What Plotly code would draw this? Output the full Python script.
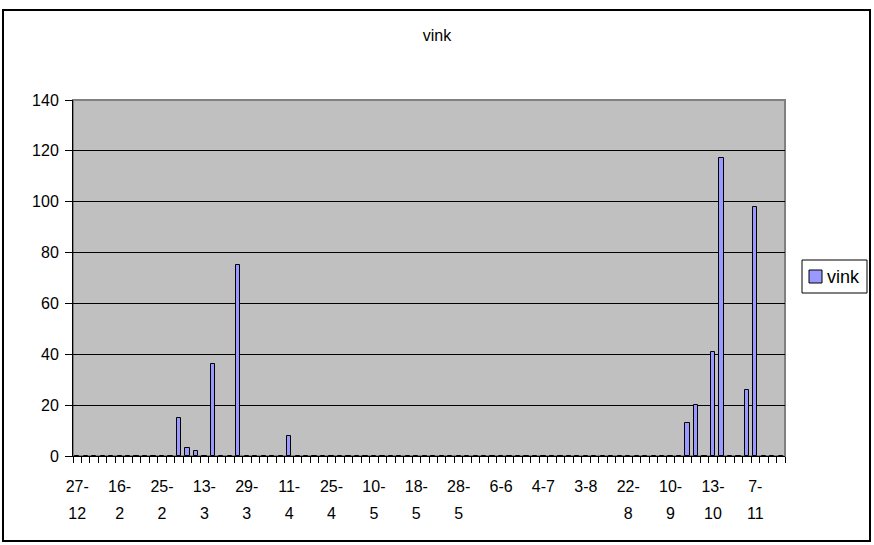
import plotly.graph_objects as go

# ---- data ----
series_name = "vink"
label_line1 = ["27-", "16-", "25-", "13-", "29-", "11-", "25-", "10-", "18-", "28-",
               "6-6", "4-7", "3-8", "22-", "10-", "13-", "7-"]
label_line2 = ["12", "2", "2", "3", "3", "4", "4", "5", "5", "5",
               "", "", "", "8", "9", "10", "11"]
label_every = 5
values = [0, 0, 0, 0, 0, 0, 0, 0, 0, 0, 0, 0, 15, 3, 2, 0, 36, 0, 0, 75,
          0, 0, 0, 0, 0, 8, 0, 0, 0, 0, 0, 0, 0, 0, 0, 0, 0, 0, 0, 0,
          0, 0, 0, 0, 0, 0, 0, 0, 0, 0, 0, 0, 0, 0, 0, 0, 0, 0, 0, 0,
          0, 0, 0, 0, 0, 0, 0, 0, 0, 0, 0, 0, 13, 20, 0, 41, 117, 0, 0, 26,
          98, 0, 0, 0]
y_ticks = [0, 20, 40, 60, 80, 100, 120, 140]

# ---- layout geometry (pixels) ----
W, H = 874, 545
L, R, T, B = 73, 89, 100, 89
pw, ph = W - L - R, H - T - B

def px_x(p):
    return (p - L) / pw

def px_y(p):
    return (H - B - p) / ph

x = list(range(len(values)))
tickvals = x[::label_every][:len(label_line1)]
xrange_ = [-0.5, len(values) - 0.5]

FONT = "Liberation Sans, Arial, sans-serif"
FS = 16
BAR_COLOR = "#9999FF"

fig = go.Figure()
fig.add_trace(go.Bar(
    x=x, y=values, name=series_name, width=0.5,
    marker=dict(color=BAR_COLOR, line=dict(color="black", width=1)),
    showlegend=False,
))
# helper (no visible marks) so the second label row axis is rendered
fig.add_trace(go.Scatter(x=tickvals[:1], y=[0], xaxis="x2", mode="none",
                         showlegend=False, hoverinfo="skip"))

# legend box drawn by hand (Excel style)
LG_X0, LG_X1, LG_Y0, LG_Y1 = 802, 867, 260, 293
SQ = 13
shapes = [
    dict(type="rect", xref="paper", yref="paper", x0=0, x1=1, y0=0, y1=1,
         line=dict(color="#808080", width=2), fillcolor="rgba(0,0,0,0)", layer="below"),
    dict(type="rect", xref="paper", yref="paper",
         x0=px_x(3), x1=px_x(870), y0=px_y(541), y1=px_y(10),
         line=dict(color="black", width=2), fillcolor="rgba(0,0,0,0)"),
    dict(type="rect", xref="paper", yref="paper",
         x0=px_x(LG_X0), x1=px_x(LG_X1), y0=px_y(LG_Y1), y1=px_y(LG_Y0),
         line=dict(color="black", width=1), fillcolor="white"),
    dict(type="rect", xref="paper", yref="paper",
         x0=px_x(LG_X0 + 7), x1=px_x(LG_X0 + 7 + SQ),
         y0=px_y((LG_Y0 + LG_Y1) / 2 + SQ / 2), y1=px_y((LG_Y0 + LG_Y1) / 2 - SQ / 2),
         line=dict(color="black", width=1), fillcolor=BAR_COLOR),
]
annotations = [
    dict(text=series_name, xref="paper", yref="paper",
         x=px_x(LG_X0 + 7 + SQ + 3), y=px_y((LG_Y0 + LG_Y1) / 2),
         xanchor="left", yanchor="middle", showarrow=False,
         font=dict(family=FONT, size=18, color="black")),
]

fig.update_layout(
    width=W, height=H,
    margin=dict(l=L, r=R, t=T, b=B, autoexpand=False),
    paper_bgcolor="white",
    plot_bgcolor="#C0C0C0",
    font=dict(family=FONT, size=FS, color="black"),
    title=dict(text="vink", x=0.5, xref="container", xanchor="center",
               y=1 - 35 / H, yref="container", yanchor="middle",
               font=dict(family=FONT, size=FS, color="black")),
    bargap=0,
    showlegend=False,
    xaxis=dict(range=xrange_, tickvals=tickvals, ticktext=label_line1,
               ticks="", showgrid=False, zeroline=False,
               showline=True, linecolor="black", linewidth=1,
               ticklabelstandoff=16,
               tickfont=dict(family=FONT, size=FS),
               minor=dict(ticks="outside", tick0=-0.5, dtick=1, ticklen=6,
                          tickcolor="black", tickwidth=1, showgrid=False)),
    xaxis2=dict(range=xrange_, overlaying="x", anchor="y", side="bottom",
                tickvals=tickvals, ticktext=label_line2, ticks="",
                showgrid=False, zeroline=False, showline=False,
                ticklabelstandoff=46,
                tickfont=dict(family=FONT, size=FS)),
    yaxis=dict(range=[0, 140], tickvals=y_ticks, ticks="outside", ticklen=7,
               tickcolor="black", showgrid=True, gridcolor="black", gridwidth=1,
               zeroline=False, showline=True, linecolor="black", linewidth=1,
               ticklabelstandoff=3,
               tickfont=dict(family=FONT, size=FS)),
    shapes=shapes,
    annotations=annotations,
)

fig.write_html("out.html", config={"displayModeBar": False},
               post_script="document.body.style.margin='0';")
